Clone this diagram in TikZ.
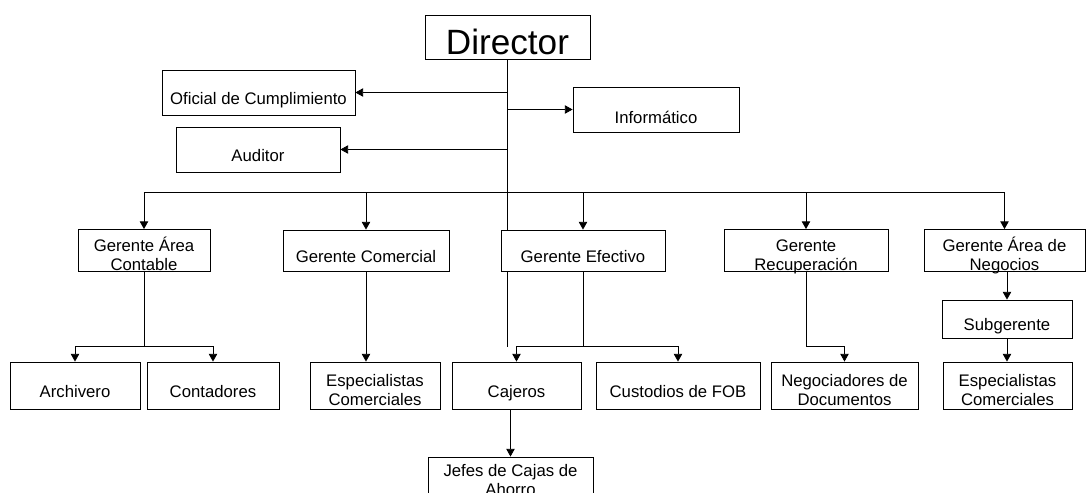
\documentclass[tikz,border=0pt]{standalone}
\usepackage{fontspec}
\setmainfont{Liberation Sans}
\usetikzlibrary{arrows.meta}

\begin{document}
\begin{tikzpicture}[node distance=5.5cm, align=center,
  every node/.style={font=\fontsize{11.9}{13}\selectfont, inner sep=1pt},
  box/.style={draw, line width=0.6pt, minimum width=#1},
  toprow/.style={minimum height=1.125cm},
  midrow/.style={minimum height=1.025cm},
  botrow/.style={minimum height=1.175cm},
  oneline/.style={text height=16.4pt, text depth=0pt},
  twoline/.style={text height=27.9pt, text depth=0pt},
  conn/.style={line width=0.6pt},
  trunk/.style={line width=1.4pt},
  arr/.style={line width=0.6pt, -{Triangle[length=5.5pt, width=6pt]}}]
\clip (-12.6875,0.925) rectangle (14.4625,-11.4);
% Specification of nodes (position, etc.)

\node (director)        [box=4.125cm, minimum height=1.1cm, text height=25pt, text depth=0pt, font=\fontsize{25}{30}\selectfont]   {Director};
\node (oficial)         [box=4.825cm, toprow, oneline, left of=director, xshift=-0.725cm, yshift=-1.3875cm]  {Oficial de Cumplimiento};
\node (auditor)         [box=4.1cm, toprow, oneline, node distance=1.425cm, below of=oficial, xshift=-0.0125cm] {Auditor};
\node (informatico)     [box=4.15cm, toprow, text height=20.5pt, text depth=0pt, right of=director, xshift=-1.7875cm, yshift=-1.8125cm] {Informático};

\node (efectivo)        [box=4.1cm, midrow, oneline, below of=director, xshift=1.8875cm, yshift=0.1625cm]   {Gerente Efectivo};
\node (comercial)       [box=4.15cm, midrow, oneline, left of=efectivo, xshift=0.075cm]      {Gerente Comercial};
\node (contable)        [box=3.3cm, midrow, twoline, left of=comercial, xshift=-0.05cm]      {Gerente Área\\Contable};
\node (recuperacion)    [box=4.1cm, midrow, twoline, right of=efectivo, xshift=0.075cm]      {Gerente\\Recuperación};
\node (negocios)        [box=4.025cm, midrow, twoline, right of=recuperacion, xshift=-0.5375cm] {Gerente Área de\\Negocios};

\node (cajeros)         [box=3.225cm, botrow, oneline, node distance=3.375cm, below of=efectivo, xshift=-1.6625cm] {Cajeros};
\node (custodios)       [box=4.1cm, botrow, oneline, node distance=4.0375cm, right of=cajeros]     {Custodios de FOB};
\node (especialistas)   [box=3.25cm, botrow, twoline, node distance=3.5375cm, left of=cajeros]     {Especialistas\\Comerciales};
\node (contadores)      [box=3.3cm, botrow, oneline, node distance=4.05cm, left of=especialistas]  {Contadores};
\node (archivero)       [box=3.25cm, botrow, oneline, node distance=3.45cm, left of=contadores]    {Archivero};
\node (negociadores)    [box=3.675cm, botrow, twoline, node distance=4.1625cm, right of=custodios]  {Negociadores de\\Documentos};
\node (especialistas2)  [box=3.225cm, botrow, twoline, node distance=4.075cm, right of=negociadores] {Especialistas\\Comerciales};
\node (subgerente)      [box=3.25cm, minimum height=0.95cm, oneline, node distance=1.6625cm, above of=especialistas2, xshift=-0.0125cm] {Subgerente};
\node (jefes)           [box=4.125cm, minimum height=1.15cm, node distance=2.3625cm, below of=cajeros, xshift=-0.15cm] {Jefes de Cajas de\\Ahorro};

\coordinate (bus)  at ([yshift=0.925cm]efectivo.north);
\coordinate (row3) at ([yshift=0.375cm]cajeros.north);

\draw[trunk]    (director.south) -- (director.south |- bus);
\draw[conn]     (director.south |- bus) -- (director.south |- efectivo.north);
\draw[conn]     (director.south |- efectivo.south) -- (director.south |- row3);
\draw[conn]     (bus -| contable) -- (bus -| negocios);

\draw[arr]      (director.south |- oficial) -- (oficial.east);
\draw[arr]      (director.south |- informatico) -- (informatico.west);
\draw[arr]      (director.south |- auditor) -- (auditor.east);

\foreach \n in {contable, comercial, efectivo, recuperacion, negocios}
  \draw[arr]    (bus -| \n) -- (\n.north);

\draw[arr]      (contable.south) -- (contable |- row3) -| (archivero.north);
\draw[arr]      (contable |- row3) -| (contadores.north);
\draw[arr]      (comercial.south) -- (comercial.south |- especialistas.north);
\draw[arr]      (efectivo.south) -- (efectivo |- row3) -| (cajeros.north);
\draw[arr]      (efectivo |- row3) -| (custodios.north);
\draw[arr]      (recuperacion.south) -- (recuperacion |- row3) -| (negociadores.north);
\draw[arr]      (negocios.south -| subgerente) -- (subgerente.north);
\draw[arr]      (subgerente.south) -- (subgerente.south |- especialistas2.north);
\draw[arr]      (cajeros.south -| jefes) -- (jefes.north);

\end{tikzpicture}
\end{document}
